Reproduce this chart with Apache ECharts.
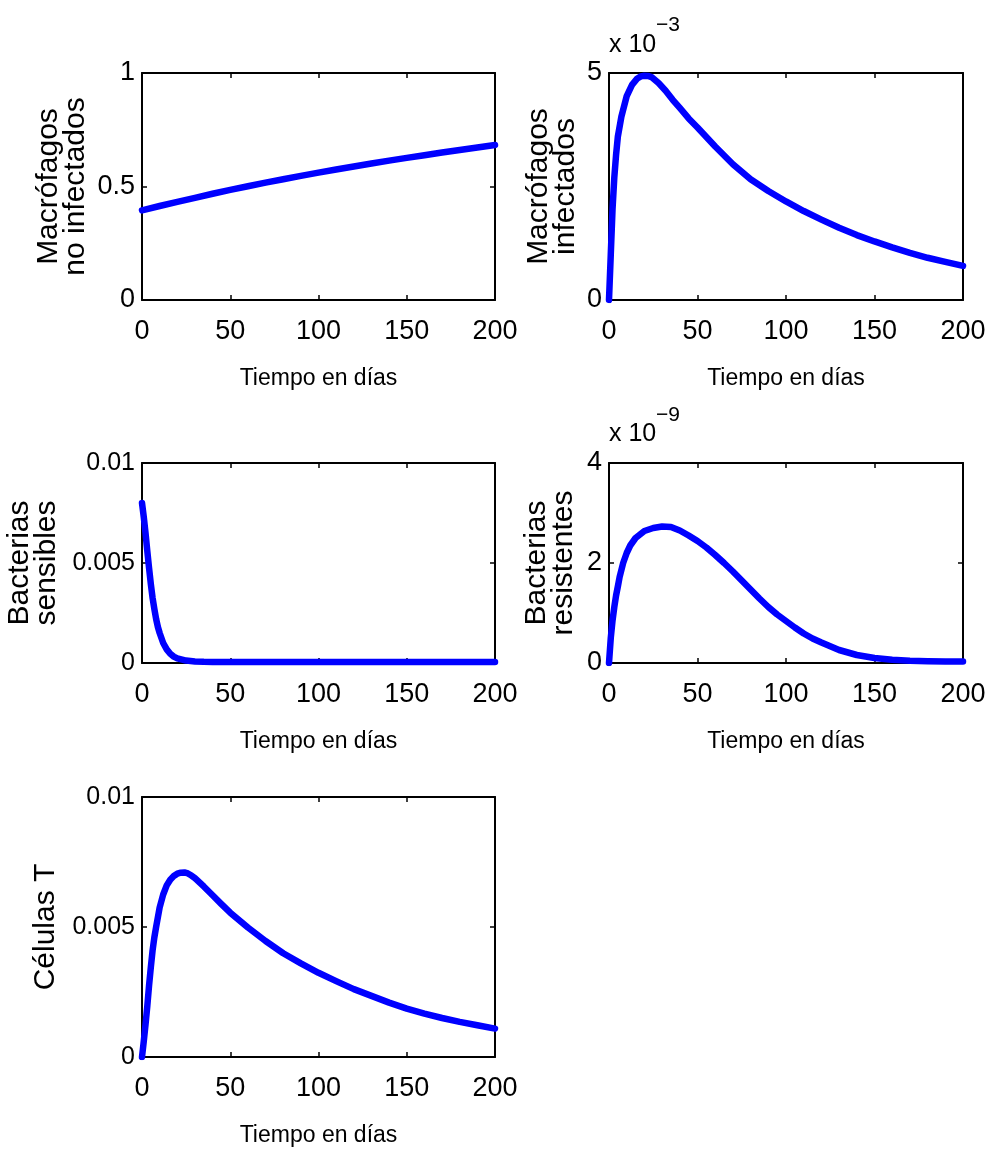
<!DOCTYPE html>
<html>
<head>
<meta charset="utf-8">
<script src="https://cdn.jsdelivr.net/npm/echarts@6/dist/echarts.min.js"></script>
<style>
  html, body { margin: 0; padding: 0; background: #fff; }
  #chart { width: 988px; height: 1153px; }
</style>
</head>
<body>
<div id="chart"></div>
<script>
// ---- Data (time in days) ----
const xLabelText = 'Tiempo en días';

// 1) Macrófagos no infectados
const t1 = [0,10,20,30,40,50,60,70,80,90,100,110,120,130,140,150,160,170,180,190,200];
const macNoInf = [0.395,0.414,0.432,0.450,0.468,0.485,0.501,0.517,0.532,0.547,0.561,0.575,0.588,0.601,0.614,0.626,0.638,0.650,0.661,0.672,0.683];

// 2) Macrófagos infectados (x 10^-3)
const t2 = [0,1,2,3,4,5,7,10,13,16,18,20,22,24,28,32,36,40,45,50,60,70,80,90,100,110,120,130,140,150,160,170,180,190,200];
const macInf = [0,1.0,2.0,2.7,3.2,3.6,4.04,4.49,4.74,4.88,4.925,4.94,4.935,4.91,4.78,4.61,4.41,4.23,4.0,3.8,3.38,2.99,2.66,2.40,2.17,1.96,1.77,1.59,1.43,1.29,1.16,1.04,0.93,0.84,0.75];

// 3) Bacterias sensibles
const t3 = [0,1,2,3,4,5,6,7,8,9,10,12,14,16,18,20,25,30,35,40,50,60,80,100,120,140,160,180,200];
const bactSens = [0.0080,0.0073,0.0065,0.0056,0.00475,0.00395,0.00325,0.0027,0.0022,0.0018,0.0015,0.0010,0.00068,0.00046,0.00032,0.00023,0.00012,0.00008,0.00006,0.00005,0.00005,0.00005,0.00005,0.00005,0.00005,0.00005,0.00005,0.00005,0.00005];

// 4) Bacterias resistentes (x 10^-9)
const t4 = [0,1,2,3,4,5,6,8,10,12,15,20,25,30,35,40,45,50,55,60,65,70,75,80,85,90,95,100,105,110,115,120,130,140,150,160,170,180,190,200];
const bactRes = [0,0.5,0.85,1.12,1.35,1.53,1.72,2.0,2.2,2.35,2.5,2.64,2.7,2.73,2.72,2.65,2.55,2.44,2.31,2.16,2.0,1.83,1.65,1.47,1.29,1.12,0.97,0.84,0.71,0.59,0.49,0.41,0.26,0.16,0.10,0.065,0.045,0.035,0.03,0.03];

// 5) Células T
const t5 = [0,1,2,3,4,5,6,7,8,10,12,14,16,18,20,22,24,26,28,30,35,40,45,50,60,70,80,90,100,110,120,130,140,150,160,170,180,190,200];
const cellT = [0,0.0006,0.00125,0.00195,0.00275,0.00345,0.0041,0.0046,0.0050,0.00575,0.00625,0.0066,0.00682,0.00696,0.00705,0.00709,0.0071,0.00706,0.00698,0.00688,0.00656,0.00622,0.00588,0.00555,0.00498,0.00446,0.00399,0.0036,0.00324,0.00292,0.00261,0.00235,0.00209,0.00186,0.00167,0.0015,0.00135,0.00122,0.00109];

const yNames = ['Macrófagos\nno infectados', 'Macrófagos\ninfectados', 'Bacterias\nsensibles', 'Bacterias\nresistentes', 'Células T'];
const exponentBase = 'x 10';
const exponentSup = ['−3', '−9'];

// ---- Layout ----
const SANS = "'Liberation Sans', Arial, sans-serif";

const panels = [
  { t: t1, v: macNoInf, grid: {left:142, top:73, width:353, height:227}, y: {min:0, max:1, interval:0.5}, nameGap: 53, yFont: 27 },
  { t: t2, v: macInf,   grid: {left:609, top:73, width:354, height:227}, y: {min:0, max:5, interval:5},   nameGap: 30, yFont: 27 },
  { t: t3, v: bactSens, grid: {left:142, top:463, width:353, height:200}, y: {min:0, max:0.01, interval:0.005}, nameGap: 82, yFont: 25 },
  { t: t4, v: bactRes,  grid: {left:609, top:463, width:354, height:200}, y: {min:0, max:4, interval:2},   nameGap: 32, yFont: 27 },
  { t: t5, v: cellT,    grid: {left:142, top:797, width:353, height:260}, y: {min:0, max:0.01, interval:0.005}, nameGap: 83, yFont: 25 }
];

const axisLine = { show: true, onZero: false, lineStyle: { color: '#000', width: 2 } };
const tick = { show: true, inside: true, length: 5, lineStyle: { color: '#000', width: 1.5 } };

const grid = [], xAxis = [], yAxis = [], series = [];
panels.forEach((p, i) => {
  grid.push(Object.assign({ show: false, outerBoundsMode: 'none', containLabel: false }, p.grid));
  xAxis.push({
    type: 'value', gridIndex: i, position: 'bottom', min: 0, max: 200, interval: 50,
    axisLine, axisTick: tick, splitLine: { show: false },
    axisLabel: { color: '#000', fontFamily: SANS, fontSize: 27, margin: 18 },
    name: xLabelText, nameLocation: 'middle', nameGap: 67, nameMoveOverlap: false,
    nameTextStyle: { color: '#000', fontFamily: SANS, fontSize: 23 }
  });
  xAxis.push({
    type: 'value', gridIndex: i, position: 'top', min: 0, max: 200, interval: 50,
    axisLine, axisTick: tick, splitLine: { show: false }, axisLabel: { show: false }
  });
  yAxis.push({
    type: 'value', gridIndex: i, position: 'left', min: p.y.min, max: p.y.max, interval: p.y.interval,
    axisLine, axisTick: tick, splitLine: { show: false },
    axisLabel: { color: '#000', fontFamily: SANS, fontSize: p.yFont, margin: 7 },
    name: yNames[i], nameLocation: 'middle', nameGap: p.nameGap, nameMoveOverlap: false,
    nameTextStyle: { color: '#000', fontFamily: SANS, fontSize: 30, lineHeight: 27, align: 'center' }
  });
  yAxis.push({
    type: 'value', gridIndex: i, position: 'right', min: p.y.min, max: p.y.max, interval: p.y.interval,
    axisLine, axisTick: tick, splitLine: { show: false }, axisLabel: { show: false }
  });
  series.push({
    type: 'line', xAxisIndex: 2 * i, yAxisIndex: 2 * i,
    data: p.t.map((x, k) => [x, p.v[k]]),
    showSymbol: false, symbol: 'none', clip: true, z: 1, smooth: false,
    lineStyle: { color: '#0000ff', width: 6.5, cap: 'round', join: 'round' },
    animation: false
  });
});

const graphic = [
  { type: 'text', x: 609, y: 45, style: { text: exponentBase, fill: '#000', font: '25px ' + SANS, verticalAlign: 'middle', align: 'left' } },
  { type: 'text', x: 656, y: 25, style: { text: exponentSup[0], fill: '#000', font: '21px ' + SANS, verticalAlign: 'middle', align: 'left' } },
  { type: 'text', x: 609, y: 434, style: { text: exponentBase, fill: '#000', font: '25px ' + SANS, verticalAlign: 'middle', align: 'left' } },
  { type: 'text', x: 656, y: 415, style: { text: exponentSup[1], fill: '#000', font: '21px ' + SANS, verticalAlign: 'middle', align: 'left' } }
];

const chart = echarts.init(document.getElementById('chart'), null, { renderer: 'canvas' });
chart.setOption({
  backgroundColor: '#fff',
  animation: false,
  grid, xAxis, yAxis, series, graphic
});
</script>
</body>
</html>
